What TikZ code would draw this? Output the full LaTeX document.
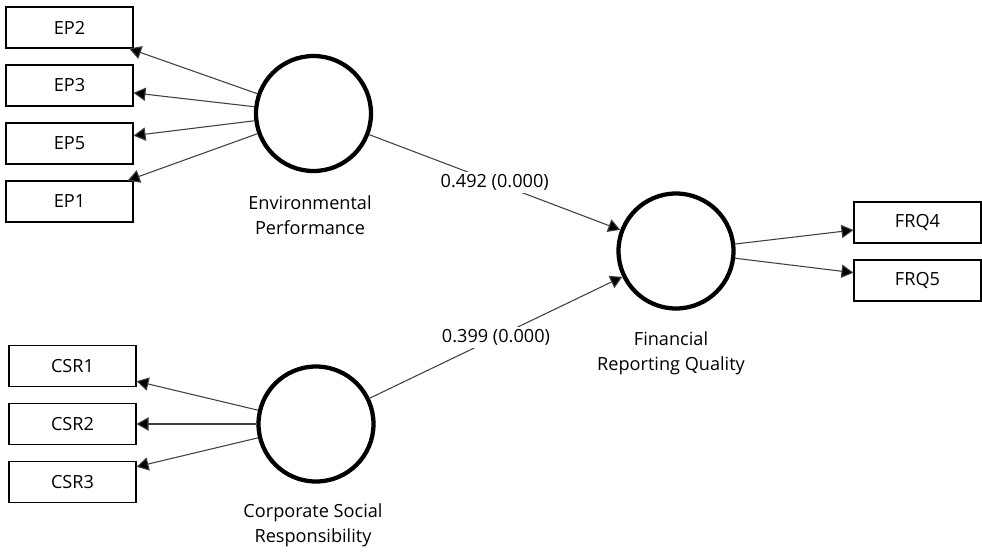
\documentclass[tikz,border=0pt]{standalone}
\usepackage{fontspec}
\setmainfont{Open Sans}
\usetikzlibrary{arrows.meta}
\begin{document}
\begin{tikzpicture}[x=0.75pt,y=-0.75pt,
  font=\fontsize{13.6}{16}\selectfont,
  indicator/.style={draw=black,line width=0.8pt,minimum width=95.25pt,minimum height=30.75pt,inner sep=0pt,text=black},
  construct/.style={circle,draw=black,line width=3.2pt,minimum size=86.25pt,inner sep=0pt},
  caption/.style={align=center,text=black,font=\fontsize{13.6}{19}\selectfont},
  link/.style={draw=black!75,line width=0.8pt,-{Triangle[length=9pt,width=10pt,fill=black]}},
  coef/.style={fill=white,inner sep=2pt,text=black}]
\useasboundingbox (0,0) rectangle (982,551);

% latent constructs
\node[construct] (EP)  at (313.5,113.5) {};
\node[construct] (CSR) at (316,424) {};
\node[construct] (FRQ) at (676,251) {};

\node[caption] at (310,215) {Environmental\\Performance};
\node[caption] at (671,353) {Financial\\Reporting Quality};
\node[caption] at (313,525) {Corporate Social\\Responsibility};

% indicators
\node[indicator] (EP2) at (69.5,27.5) {EP2};
\node[indicator] (EP3) at (69.5,85.5) {EP3};
\node[indicator] (EP5) at (69.5,143.5) {EP5};
\node[indicator] (EP1) at (69.5,201.5) {EP1};

\node[indicator] (CSR1) at (72.5,366) {CSR1};
\node[indicator] (CSR2) at (72.5,424) {CSR2};
\node[indicator] (CSR3) at (72.5,482) {CSR3};

\node[indicator] (FRQ4) at (917.5,222.5) {FRQ4};
\node[indicator] (FRQ5) at (917.5,280.5) {FRQ5};

% outer loadings
\foreach \i in {EP2,EP3,EP5,EP1} \draw[link] (EP) -- (\i);
\foreach \i in {CSR1,CSR2,CSR3} \draw[link] (CSR) -- (\i);
\foreach \i in {FRQ4,FRQ5} \draw[link] (FRQ) -- (\i);

% path coefficients
\draw[link] (EP) -- node[coef] {0.492 (0.000)} (FRQ);
\draw[link] (CSR) -- node[coef] {0.399 (0.000)} (FRQ);
\end{tikzpicture}
\end{document}
